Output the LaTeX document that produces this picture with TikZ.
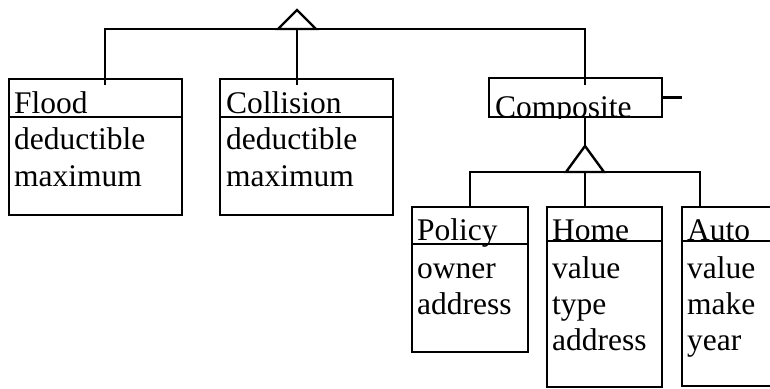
\documentclass[tikz,border=0pt]{standalone}
\usepackage{fontspec}
\setmainfont{Liberation Serif}
\usetikzlibrary{positioning}

\begin{document}
\begin{tikzpicture}
% style
	[x=1pt, y=-1pt,
	line width=2.4pt,
	classbox/.style={rectangle, draw=black, line width=2.4pt, inner sep=0pt},
	label_text/.style={anchor=base west, inner sep=0pt, font=\fontsize{31.5}{36}\selectfont},
	link/.style={draw=black, line width=2.4pt}]
	\useasboundingbox (0,0) rectangle (770,388);

	% classes
	\node [classbox, minimum width=173pt, minimum height=136pt] (flood) at (95.5,147) {};
	\node [classbox, minimum width=173pt, minimum height=136pt] (collision) at (306.5,147) {};
	\node [classbox, minimum width=173pt, minimum height=39pt] (composite) at (575.5,97.5) {};
	\node [classbox, minimum width=116pt, minimum height=145pt] (policy) at (470,279.5) {};
	\node [classbox, minimum width=115pt, minimum height=180pt] (home) at (604.5,297) {};
	\node [classbox, minimum width=118pt, minimum height=179pt] (auto) at (741,296.5) {};

	% names and attributes
	\node [label_text] (flood_name) at (13,113) {Flood};
	\node [label_text] (flood_a1) at (13,149) {deductible};
	\node [label_text] (flood_a2) at (13,186) {maximum};
	\node [label_text] (collision_name) at (225,113) {Collision};
	\node [label_text] (collision_a1) at (225,149) {deductible};
	\node [label_text] (collision_a2) at (225,186) {maximum};
	\begin{scope}
		\clip (composite.north west) rectangle (composite.south east);
		\node [label_text] (composite_name) at (494,117) {Composite};
	\end{scope}
	\node [label_text] (policy_name) at (416,240) {Policy};
	\node [label_text] (policy_a1) at (416,278) {owner};
	\node [label_text] (policy_a2) at (416,314) {address};
	\node [label_text] (home_name) at (551,240) {Home};
	\node [label_text] (home_a1) at (551,278) {value};
	\node [label_text] (home_a2) at (551,314) {type};
	\node [label_text] (home_a3) at (551,350) {address};
	\node [label_text] (auto_name) at (686,240) {Auto};
	\node [label_text] (auto_a1) at (686,278) {value};
	\node [label_text] (auto_a2) at (686,314) {make};
	\node [label_text] (auto_a3) at (686,350) {year};

	% header lines
	\draw ([yshift=-39pt]flood.north west) -- ([yshift=-39pt]flood.north east);
	\draw ([yshift=-39pt]collision.north west) -- ([yshift=-39pt]collision.north east);
	\draw ([yshift=-38pt]policy.north west) -- ([yshift=-38pt]policy.north east);
	\draw ([yshift=-35pt]home.north west) -- ([yshift=-35pt]home.north east);
	\draw ([yshift=-35pt]auto.north west) -- ([yshift=-35pt]auto.north east);

	% generalization to the top
	\coordinate (fl) at ([xshift=9.5pt,yshift=-7pt]flood.north);
	\coordinate (cl) at ([xshift=-9.5pt,yshift=-7pt]collision.north);
	\coordinate (cm) at ([xshift=9.5pt,yshift=-8pt]composite.north);
	\coordinate (gen) at (cl |- 0,29);
	\path [link] (fl) |- (gen) -| (cm);
	\path [link] (cl) -- (gen);
	\path [link, fill=white] ([xshift=-19pt]gen) -- ([yshift=19pt]gen) -- ([xshift=19pt]gen) -- cycle;

	% generalization below composite
	\coordinate (po) at ([yshift=-2pt]policy.north);
	\coordinate (ho) at ([xshift=-19.5pt,yshift=-2pt]home.north);
	\coordinate (au) at ([xshift=19pt,yshift=-2pt]auto.north west);
	\coordinate (gen2) at (ho |- 0,172);
	\path [link] (po) |- (gen2) -| (au);
	\path [link] (ho) -- (gen2);
	\path [link] ([xshift=9.5pt]composite.south) -- ([yshift=26pt]gen2);
	\path [link, fill=white] ([xshift=-19pt]gen2) -- ([yshift=26pt]gen2) -- ([xshift=19pt]gen2) -- cycle;

	% stub on composite
	\path [link] (composite.east) -- ++(19,0);
\end{tikzpicture}
\end{document}
